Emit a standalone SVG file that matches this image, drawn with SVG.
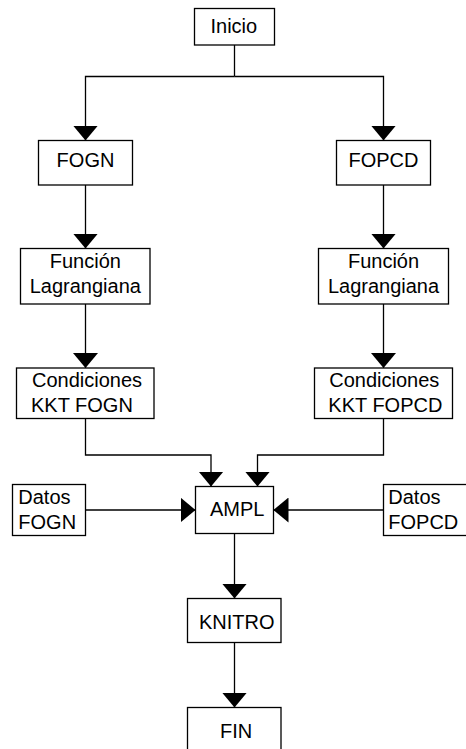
<svg xmlns="http://www.w3.org/2000/svg" width="466" height="749" viewBox="0 0 466 749">
<style>
.box{fill:#fff;stroke:#000;stroke-width:1.3}
.t{font-family:"Liberation Sans",Arial,sans-serif;font-size:20px;fill:#000}
.m{text-anchor:middle}
.c{fill:none;stroke:#000;stroke-width:1.3}
</style>
<defs>
<marker id="ah" viewBox="0 0 15 25" refX="15" refY="12.5" markerWidth="15" markerHeight="25" markerUnits="userSpaceOnUse" orient="auto">
<path d="M0,0 L15,12.5 L0,25 Z" fill="#000"/>
</marker>
</defs>
<rect width="466" height="749" fill="#fff"/>
<g id="connectors">
<path class="c" d="M234.5,45 V76.5"/>
<path class="c" d="M234.5,76.5 H85.5 V140.5" marker-end="url(#ah)"/>
<path class="c" d="M234.5,76.5 H383.5 V140.5" marker-end="url(#ah)"/>
<path class="c" d="M85.5,185 V248.5" marker-end="url(#ah)"/>
<path class="c" d="M383.5,185 V248.5" marker-end="url(#ah)"/>
<path class="c" d="M85.5,304 V368" marker-end="url(#ah)"/>
<path class="c" d="M383.5,304 V368" marker-end="url(#ah)"/>
<path class="c" d="M85.5,418.5 V455 H211 V486.5" marker-end="url(#ah)"/>
<path class="c" d="M383.5,418.5 V455 H257.5 V486.5" marker-end="url(#ah)"/>
<path class="c" d="M85.5,510 H195.5" marker-end="url(#ah)"/>
<path class="c" d="M383.5,510 H273.5" marker-end="url(#ah)"/>
<path class="c" d="M234.5,533.5 V598.5" marker-end="url(#ah)"/>
<path class="c" d="M234.5,642.5 V707.5" marker-end="url(#ah)"/>
</g>
<g id="inicio">
<rect class="box" x="194.5" y="8.5" width="80" height="36.5"/>
<text class="t" x="210.5" y="33">Inicio</text>
</g>
<g id="fogn">
<rect class="box" x="38.5" y="140.5" width="94" height="44.5"/>
<text class="t m" x="85.5" y="167">FOGN</text>
</g>
<g id="fopcd">
<rect class="box" x="336.5" y="140.5" width="94" height="44.5"/>
<text class="t m" x="383.5" y="167">FOPCD</text>
</g>
<g id="lagr-fogn">
<rect class="box" x="20.5" y="248.5" width="129.5" height="55.5"/>
<text class="t m" x="85.3" y="268.3">Función</text>
<text class="t m" x="85.3" y="293.3">Lagrangiana</text>
</g>
<g id="lagr-fopcd">
<rect class="box" x="318.5" y="248.5" width="130" height="55.5"/>
<text class="t m" x="383.5" y="268.3">Función</text>
<text class="t m" x="383.5" y="293.3">Lagrangiana</text>
</g>
<g id="kkt-fogn">
<rect class="box" x="16.5" y="368" width="137.5" height="50.5"/>
<text class="t" x="32" y="387.3">Condiciones</text>
<text class="t" x="31" y="411.7">KKT FOGN</text>
</g>
<g id="kkt-fopcd">
<rect class="box" x="314.5" y="368" width="138" height="50.5"/>
<text class="t" x="329.3" y="387.3">Condiciones</text>
<text class="t" x="328.3" y="411.7">KKT FOPCD</text>
</g>
<g id="datos-fogn">
<rect class="box" x="12.5" y="484.5" width="73" height="51"/>
<text class="t" x="18.3" y="504">Datos</text>
<text class="t" x="18.3" y="529">FOGN</text>
</g>
<g id="ampl">
<rect class="box" x="195.5" y="486.5" width="78" height="47"/>
<text class="t" x="210" y="515.7">AMPL</text>
</g>
<g id="datos-fopcd">
<rect class="box" x="383.5" y="484.5" width="90" height="51"/>
<text class="t" x="388.3" y="504">Datos</text>
<text class="t" x="388.3" y="529">FOPCD</text>
</g>
<g id="knitro">
<rect class="box" x="187.5" y="598.5" width="93.5" height="44"/>
<text class="t" x="199" y="629">KNITRO</text>
</g>
<g id="fin">
<rect class="box" x="187.5" y="707.5" width="93.5" height="50"/>
<text class="t" x="220" y="737.7">FIN</text>
</g>
</svg>
